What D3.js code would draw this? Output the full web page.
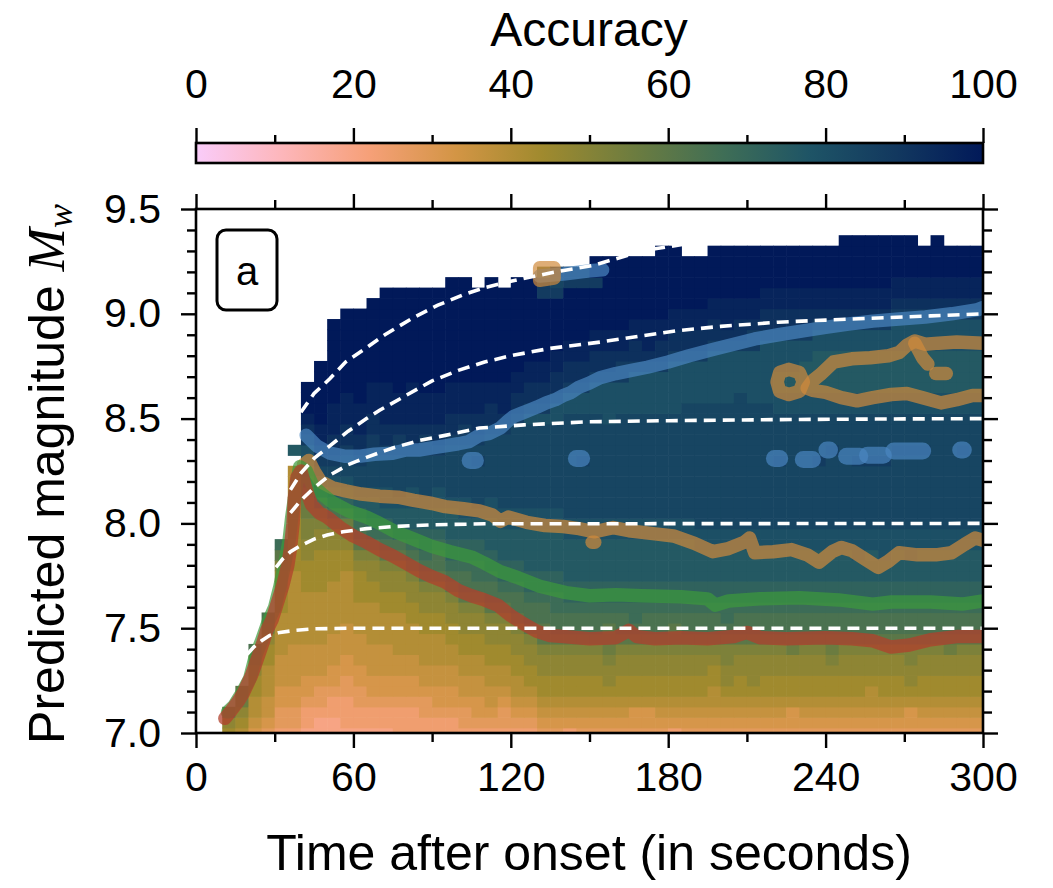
<!DOCTYPE html>
<html>
<head>
<meta charset="utf-8">
<script src="https://cdnjs.cloudflare.com/ajax/libs/d3/7.8.5/d3.min.js"></script>
<style>
  body { margin: 0; background: #fff; }
  svg text { font-family: "Liberation Sans", Arial, sans-serif; fill: #000; }
</style>
</head>
<body>
<svg id="chart" width="1053" height="888"></svg>
<script>
// start of each 5 s time bin
var timeBins = [0,5,10,15,20,25,30,35,40,45,50,55,60,65,70,75,80,85,90,95,
  100,105,110,115,120,125,130,135,140,145,150,155,160,165,170,175,180,185,190,195,
  200,205,210,215,220,225,230,235,240,245,250,255,260,265,270,275,280,285,290,295];

// magnitude bin centres
var magBins = [7.00,7.05,7.10,7.15,7.20,7.25,7.30,7.35,7.40,7.45,7.50,7.55,7.60,7.65,7.70,7.75,7.80,7.85,7.90,7.95,
  8.00,8.05,8.10,8.15,8.20,8.25,8.30,8.35,8.40,8.45,8.50,8.55,8.60,8.65,8.70,8.75,8.80,8.85,8.90,8.95,
  9.00,9.05,9.10,9.15,9.20,9.25,9.30,9.35,9.40,9.45,9.50];

// accuracy per time bin, one char per magnitude bin from Mw 7.00 upward
// a=0, b=4, ... z=100 (steps of 4), "." = no data, missing = no data
var accByTime = [
  "",
  "",
  "lmp",
  "klmop",
  "ijkkllmoq",
  "hijjkkkllmoq",
  "ghhiijjjkkkkllmmnpr",
  "ghhiijjjjkkkkkkkllllllkkkk.t",
  "fgghiijjjkkkkklllmmnnoopqstuwxyzzz",
  "ffghhijjjkkkkkllllmmnoqsuvwxyyzzzzzz",
  "ffgghiijjjkkkkklllmmoqstuvwxxyyyzzzzzzzz",
  "fggghhiijjjkkkkkllmnoqstuvvwxxyyyzzzzzzzz",
  "fgghhiijjjkkklllmnpqrstuvvwxxyyyzzzzzzzzz",
  "fgghiijjjkkkkllmmnprsttuvvvwwxxyyyzzzzzzzz",
  "fgghiijjjkkkllmmnpqrstuuvvvwxxyyyyzzzzzzzzz",
  "ggghiijjkkkkllmmnpqsttuvvvvwwxyyyzzzzzzzzzz",
  "ggghiijjkkkllmmnpqrsttuuvvvwxxyyyyzzzzzzzzz",
  "gghhijjkkkllmmnpqrssttuvvvvwwxyyyzzzzzzzzzz",
  "gghiijjkkkllmmnpqqrsttuuvvvwxxyyyzzzzzzzzzz",
  "gghiijjkkllmmnpqrsstttuvvvvvwxxyyyzzzzzzzzzz",
  "ghhijjkkllmmnpqqrssttuuvvvvvwwxyyyzzzzzzzzzz",
  "ghiijjkkllmmnpqrrssttuvvvvwvwxxyyyzzzzzzzzz",
  "ghijjkkllmmnpqqrsstttuuvvvvvvwxxyyzzzzzzzzzz",
  "ghhijkkllmmnpqrsstttuuvvvvvvvwxyyyzzzzzzzzz",
  "ghijkkllmmnpqqrsstttuuvvvvvvvvwxxyyzzzzzzzzz",
  "ghijkllmmnpqqrssttttuuvvvvvvvvuwxxyyzzzzzzzz",
  "hijkllmmnppqqrssttttuuvvvvvvvvuwxxyyzzzzzzwwo",
  "hijkllmmnpqqrrssttttuuvvvvvvvvuuwxxyyzzzzzwvw",
  "gijkllmmnpqqrssttttuuvvvvvvvvvvuuwxxyyzzzzzww",
  "hijkllmmnpqqrssttttuuvvvvvwvvvvuuwxxyyzzzzzww",
  "hijkllmmnpqqrssttttuuvvvvvvvvvvuuuwxxyyzzzzwzz",
  "hijklmmnoppqrssttttuuvvvvvvvvvuuuuwxxyyzzzzzzz",
  "hijkllmmnpqqrssttttuuvvvvvvvvvvuuuwwxyyzzzzzzz",
  "hiikllmmnpqrrssttttuuvvvvvvvvvvuuuuwxxyyzzzzzz",
  "hiikllmmnpqqrssttttuuvvvvvvvvvvuuuuwxyyyzzzzzz",
  "hijkllmmnpqqrssttttuuvvvvvvvvvvuuuuwxxyyzzzzzzz",
  "gijkllmmnppqrssttttuuvvvvvvvvvvuuuuuwxxyyzzzzzz",
  "hijkllmmnpqqrssttttuuvvvvvvvvvvvuuuuwxxyyzzzzz",
  "hijkllmmnpqqrsstttuuvvvvvvvvvvvvuuuuwxxyyzzzzz",
  "hijkkllmnpqqrsstttuuvvvvvvvvvvvvuuuuuwxxyyzzzzz",
  "hijklmmnnpqrrsstttuuvvvvvvvvvvvvuuuuuwxyyyzzzzz",
  "hijkllmmnpqqrsstttuuvvvvvvvvvvvvvuuuuwxxyyzzzzz",
  "hijklmmmnpqqrsstttuuvvvvvvvvvvvvuuuuuwwxyyzzzzz",
  "hijkllmmnpqqrsstttuuvvvvvvvvvvvvuuuuuuwxxyyzzzz",
  "hijkllmmnpqqrsstttuuvvvvvvwvvvvuuttuuuwxxyyzzzz",
  "hiikllmmopqqrsstttuuvvvvvvvvvvvuuttuuuwxxyyzzzz",
  "hijkllmmnpqqrsstttuuvvvvvvvvvvvuutttuuwxxyyzzzz",
  "hijkllmmnpqqrsstttuuvvvvvvwvvvvuuttttuuwxyyzzzz",
  "hijkllmnopqqrsstttuuvvvvvvvwvvvuuttttuuwxyyzzzz",
  "hijkllmmnpqqrsstttuuvvvvvvvvvvvuuttttuuwxyyzzzzz",
  "hijkllmmnpqqrssttuuuvvvvvvwvvvvuuttttuuwxyyzzzzz",
  "hijkklmmnpqqrsstttuuvvvvvvwvvvvuuttttuuwxyyzzzzz",
  "hijkllmmnpqqrssttuuuvvvvvvwvvvvuuttttuuwxyyzzzzz",
  "hijkllmmnpqqrsstttuuvvvvvvvwvvvuuttttuuuwxyyzzzz",
  "hiiklmmnnpqqrssttuuuvvvvvvvwvvvuuttttuuuwxyyzzzz",
  "hijkllmmnpqqrsstttuuvvvvvvvwvvvuuttttuuuwxyyzzz",
  "hijkllmmnpqqrsstttuuvvvvvvvvvvvuuttttuuuwxyyzzzz",
  "hijkllmmopqqrsstttuuvvvvvvvvvvvuuttttuuuwxyyzzz",
  "hijkllmmnpqqrsstttuuvvvvvvvwvvvuuttttuuuwxyyzzz",
  "hijkllmmnpqqrsstttuuvvvvvvvvvvvuuttttuuuwxyyzzz"
];
var codeChars = "abcdefghijklmnopqrstuvwxyz";

// batlow (reversed) colour stops for accuracy
var cmapAcc = [0, 11, 22, 33, 44, 56, 67, 78, 89, 100];
var cmapColors = ["#FACCFA","#FDB6BA","#F6A078","#D39545","#A08A2E","#6B7C40","#3F6E56","#1E5466","#12385F","#011959"];

var xTicks = [0, 60, 120, 180, 240, 300];
var xMinor = [30, 90, 150, 210, 270];
var yTicks = [7.0, 7.5, 8.0, 8.5, 9.0, 9.5];
var yMinor = [7.1,7.2,7.3,7.4,7.6,7.7,7.8,7.9,8.1,8.2,8.3,8.4,8.6,8.7,8.8,8.9,9.1,9.2,9.3,9.4];
var cbTicks = [0, 20, 40, 60, 80, 100];
var cbMinor = [10, 30, 50, 70, 90];

// contour lines (time, Mw)
var redLine = [[11,7.07],[13,7.10],[16,7.15],[18,7.19],[21,7.27],[23,7.34],[25.5,7.43],[27,7.49],[29,7.54],
  [31,7.62],[33,7.70],[35,7.80],[36,7.88],[37,8.0],[37.5,8.12],[38.5,8.22],[40,8.25],[42,8.16],[44,8.09],
  [47,8.05],[50,8.03],[55,7.98],[60,7.94],[65,7.91],[70,7.875],[75,7.845],[80,7.81],[85,7.775],[90,7.745],
  [95,7.72],[100,7.68],[105,7.655],[110,7.635],[115,7.61],[120,7.56],[125,7.52],[130,7.485],[135,7.465],
  [140,7.46],[150,7.45],[160,7.455],[165,7.49],[168,7.46],[175,7.45],[185,7.455],[195,7.45],[205,7.46],
  [210,7.48],[215,7.455],[225,7.45],[240,7.455],[250,7.45],[258,7.44],[265,7.41],[272,7.42],[280,7.445],
  [290,7.46],[300,7.46]];
var greenLine = [[12,7.10],[14.5,7.13],[17.5,7.19],[20.5,7.26],[22.5,7.36],[25,7.44],[27.5,7.53],[30,7.60],
  [32,7.70],[34,7.82],[35.5,7.92],[36.5,8.03],[38,8.16],[39.5,8.27],[42,8.25],[44.5,8.18],[48,8.14],[52,8.10],[58,8.06],
  [65,8.03],[70,8.00],[76,7.96],[83,7.925],[90,7.89],[97,7.865],[105,7.84],[110,7.81],[116,7.77],[123,7.74],
  [131,7.70],[141,7.67],[150,7.655],[160,7.66],[170,7.655],[185,7.65],[195,7.64],[198,7.61],[203,7.63],
  [215,7.64],[230,7.645],[245,7.635],[258,7.615],[265,7.625],[280,7.625],[292,7.615],[300,7.63]];
var orangeLine = [[41,8.28],[43,8.30],[45,8.25],[47.5,8.20],[52,8.17],[57,8.155],[63,8.14],[70,8.13],[77,8.125],
  [83,8.11],[90,8.095],[95,8.08],[102,8.07],[108,8.06],[113,8.04],[116,8.01],[119,8.03],[126,8.005],[133,7.99],
  [140,7.985],[146,7.975],[152,7.96],[159,7.98],[165,7.965],[175,7.95],[182,7.94],[190,7.905],[197,7.865],
  [203,7.88],[209,7.91],[211,7.93],[213,7.86],[220,7.865],[227,7.875],[233,7.85],[237.5,7.815],[242.5,7.865],
  [246,7.885],[250,7.87],[255,7.83],[260,7.79],[264,7.82],[268,7.86],[275,7.85],[282,7.85],[288,7.86],
  [293,7.9],[297,7.93],[300,7.92]];
var orangeLoop = [[300,8.61],[296,8.61],[290,8.59],[284,8.575],[277,8.60],[271,8.62],[265,8.615],[258,8.60],
  [252,8.585],[246,8.60],[240,8.625],[235,8.635],[233,8.645],[235,8.68],[238,8.71],[243,8.77],[250,8.785],
  [257,8.79],[264,8.80],[268,8.815],[271,8.85],[274,8.87],[278,8.855],[283,8.86],[290,8.865],[300,8.86]];
var orangeRing = [[221.5,8.675],[222.5,8.72],[226,8.735],[230,8.72],[231.5,8.675],[230,8.63],[226,8.615],[222.5,8.63],[221.5,8.675]];
var orangeBits = [[[274,8.86],[277,8.79],[279,8.76]], [[282,8.715],[286,8.715]], [[151,7.91],[152,7.91]],
  [[131,9.16],[136.5,9.17],[136.5,9.22],[131,9.22],[131,9.16]]];
var blueLine = [[42,8.42],[46,8.37],[51,8.335],[57,8.32],[62,8.32],[68,8.33],[75,8.335],[80,8.35],[85,8.35],
  [90,8.36],[95,8.37],[100,8.38],[104,8.39],[108,8.42],[112,8.43],[116,8.455],[119,8.49],[121,8.51],
  [124,8.525],[127,8.54],[130,8.555],[133.5,8.575],[137,8.59],[140,8.61],[143,8.625],[146,8.65],[150,8.67],
  [154,8.695],[160,8.715],[166,8.73],[172,8.745],[180,8.77],[188,8.80],[197,8.83],[205,8.855],[213,8.88],
  [222,8.90],[232,8.92],[240,8.935],[248,8.95],[258,8.965],[268,8.975],[278,8.985],[288,9.00],[298,9.02],[300,9.03]];
var blueDots = [[[104.5,8.30],[106.5,8.30]], [[145,8.31],[147,8.31]], [[220.5,8.31],[222.5,8.31]],
  [[231.5,8.305],[235,8.305]], [[240.5,8.35],[241.5,8.35]], [[248,8.32],[253,8.32]], [[256,8.325],[262,8.325]],
  [[266,8.345],[277,8.345]], [[291.5,8.35],[292.5,8.35]]];
var blueTop = [[131,9.18],[140,9.19],[150,9.205],[155,9.21]];

// white dashed reference curves
var dash75 = [[19.5,7.375],[22,7.41],[25,7.44],[28,7.465],[32,7.48],[38,7.49],[45,7.497],[60,7.5],[300,7.5]];
var dash80 = [[30.5,7.79],[33,7.83],[36,7.865],[40,7.895],[45,7.925],[50,7.945],[56,7.96],[65,7.975],[75,7.985],
  [90,7.993],[110,7.998],[300,8.0]];
var dash85 = [[36,8.05],[40,8.11],[45,8.17],[51,8.23],[58,8.28],[65,8.315],[75,8.36],[85,8.395],[95,8.42],
  [108,8.455],[125,8.47],[150,8.485],[180,8.49],[220,8.495],[260,8.498],[300,8.5]];
var dash90 = [[36,8.16],[40,8.24],[45,8.31],[51,8.37],[58,8.44],[65,8.50],[70,8.54],[80,8.61],[90,8.68],
  [100,8.73],[110,8.77],[120,8.80],[135,8.835],[154,8.865],[170,8.895],[184,8.92],[200,8.94],[222,8.96],
  [240,8.97],[260,8.98],[280,8.99],[300,9.0]];
var dash95 = [[40,8.53],[45,8.62],[51,8.69],[57,8.77],[64,8.83],[72,8.90],[82.6,8.98],[92,9.04],[101.7,9.09],
  [110,9.125],[120,9.155],[135,9.195],[151,9.23],[165,9.28],[175,9.31],[190,9.34],[210,9.37],[240,9.41],
  [270,9.44],[300,9.46]];

var svg = d3.select("#chart");
var defs = svg.append("defs");

var x = d3.scaleLinear().domain([0, 300]).range([196, 983]);
var y = d3.scaleLinear().domain([7, 9.5]).range([733, 209]);
var color = d3.scaleLinear().domain(cmapAcc).range(cmapColors)
  .interpolate(d3.interpolateRgb).clamp(true);

defs.append("clipPath").attr("id", "plotclip")
  .append("rect").attr("x", 196).attr("y", 209).attr("width", 787).attr("height", 524);

// heatmap cells
var cells = [];
accByTime.forEach(function(col, c) {
  for (var k = 0; k < col.length; k++) {
    var ch = col[k];
    if (ch === ".") continue;
    cells.push({t: timeBins[c], m: magBins[k], acc: codeChars.indexOf(ch) * 4});
  }
});
var cw = x(5) - x(0);
var plot = svg.append("g").attr("clip-path", "url(#plotclip)");
plot.selectAll("rect.cell")
  .data(cells)
  .enter()
  .append("rect")
    .attr("class", "cell")
    .attr("x", function(d) { return x(d.t); })
    .attr("y", function(d) { return y(d.m + 0.025); })
    .attr("width", cw + 0.6)
    .attr("height", function(d) { return y(d.m - 0.025) - y(d.m + 0.025) + 0.6; })
    .attr("fill", function(d) { return color(d.acc); });

// contour lines
var line = d3.line().x(function(d) { return x(d[0]); }).y(function(d) { return y(d[1]); });
function thick(data, col, op, w) {
  plot.append("path").datum(data)
    .attr("d", line)
    .attr("fill", "none")
    .attr("stroke", col)
    .attr("stroke-opacity", op)
    .attr("stroke-width", w || 13.5)
    .attr("stroke-linecap", "round")
    .attr("stroke-linejoin", "round");
}
thick(blueLine, "#4a86c0", 0.7);
thick(blueTop, "#4a86c0", 0.7);
blueDots.forEach(function(b) { thick(b, "#4a86c0", 0.7, 17); });
thick(orangeLine, "#d08a3c", 0.7);
thick(orangeLoop, "#d08a3c", 0.7);
thick(orangeRing, "#d08a3c", 0.7);
orangeBits.forEach(function(b) { thick(b, "#d08a3c", 0.7); });
thick(greenLine, "#3c9a3c", 0.7);
thick(redLine, "#b0402c", 0.75);

// dashed white curves
[dash75, dash80, dash85, dash90, dash95].forEach(function(d) {
  plot.append("path").datum(d)
    .attr("d", line)
    .attr("fill", "none")
    .attr("stroke", "#fff")
    .attr("stroke-width", 3.6)
    .attr("stroke-dasharray", "12,7");
});

// axes
function styleAxis(g) {
  g.select(".domain").remove();
  g.selectAll(".tick line").attr("stroke", "#000").attr("stroke-width", 2.4);
  g.selectAll(".tick text").style("font-size", "41px").attr("fill", "#000");
}
svg.append("g").attr("transform", "translate(0,733)")
  .call(d3.axisBottom(x).tickValues(xTicks).tickSize(15).tickPadding(14).tickFormat(d3.format("d")))
  .call(styleAxis);
svg.append("g").attr("transform", "translate(0,733)")
  .call(d3.axisBottom(x).tickValues(xMinor).tickSize(9).tickFormat(""))
  .call(styleAxis);
svg.append("g").attr("transform", "translate(0,209)")
  .call(d3.axisTop(x).tickValues(xTicks).tickSize(15).tickFormat(""))
  .call(styleAxis);
svg.append("g").attr("transform", "translate(0,209)")
  .call(d3.axisTop(x).tickValues(xMinor).tickSize(9).tickFormat(""))
  .call(styleAxis);
svg.append("g").attr("transform", "translate(196,0)")
  .call(d3.axisLeft(y).tickValues(yTicks).tickSize(15).tickPadding(20).tickFormat(d3.format(".1f")))
  .call(styleAxis);
svg.append("g").attr("transform", "translate(196,0)")
  .call(d3.axisLeft(y).tickValues(yMinor).tickSize(9).tickFormat(""))
  .call(styleAxis);
svg.append("g").attr("transform", "translate(983,0)")
  .call(d3.axisRight(y).tickValues(yTicks).tickSize(15).tickFormat(""))
  .call(styleAxis);
svg.append("g").attr("transform", "translate(983,0)")
  .call(d3.axisRight(y).tickValues(yMinor).tickSize(9).tickFormat(""))
  .call(styleAxis);

svg.append("rect")
  .attr("x", 196).attr("y", 209).attr("width", 787).attr("height", 524)
  .attr("fill", "none").attr("stroke", "#000").attr("stroke-width", 2.6);

// panel label
svg.append("rect")
  .attr("x", 217).attr("y", 230).attr("width", 60).attr("height", 80).attr("rx", 9)
  .attr("fill", "#fff").attr("stroke", "#000").attr("stroke-width", 3);
svg.append("text")
  .attr("x", 247).attr("y", 271).attr("text-anchor", "middle").attr("dominant-baseline", "central")
  .style("font-size", "40px").text("a");

// axis labels
svg.append("text")
  .attr("x", 589).attr("y", 870).attr("text-anchor", "middle")
  .style("font-size", "50px").text("Time after onset (in seconds)");
var ylab = svg.append("text")
  .attr("transform", "translate(64,474) rotate(-90)")
  .attr("text-anchor", "middle")
  .style("font-size", "50px");
ylab.append("tspan").text("Predicted magnitude ");
ylab.append("tspan").style("font-family", "'Liberation Serif', 'DejaVu Serif', serif")
  .style("font-style", "italic").style("font-size", "52px").text("M");
ylab.append("tspan").style("font-family", "'Liberation Serif', 'DejaVu Serif', serif")
  .style("font-style", "italic").style("font-size", "36px").attr("dy", 8).text("w");

// colour bar
var cb = d3.scaleLinear().domain([0, 100]).range([196, 983]);
var grad = defs.append("linearGradient").attr("id", "cbgrad")
  .attr("x1", "0%").attr("x2", "100%").attr("y1", "0%").attr("y2", "0%");
cmapAcc.forEach(function(a, i) {
  grad.append("stop").attr("offset", a + "%").attr("stop-color", cmapColors[i]);
});
svg.append("rect")
  .attr("x", 196).attr("y", 143).attr("width", 787).attr("height", 20)
  .attr("fill", "url(#cbgrad)").attr("stroke", "#000").attr("stroke-width", 2.6);
svg.append("g").attr("transform", "translate(0,143)")
  .call(d3.axisTop(cb).tickValues(cbTicks).tickSize(15).tickPadding(30).tickFormat(d3.format("d")))
  .call(styleAxis);
svg.append("g").attr("transform", "translate(0,143)")
  .call(d3.axisTop(cb).tickValues(cbMinor).tickSize(8).tickFormat(""))
  .call(styleAxis);
svg.append("text")
  .attr("x", 589).attr("y", 46).attr("text-anchor", "middle")
  .style("font-size", "48px").text("Accuracy");

// sanity check of the typed grid
var bad = [];
if (accByTime.length !== timeBins.length) bad.push("cols " + accByTime.length);
accByTime.forEach(function(col, c) { if (col.length > magBins.length) bad.push("col " + c + " len " + col.length); });
if (bad.length) throw new Error(bad.join("; "));
</script>
</body>
</html>
